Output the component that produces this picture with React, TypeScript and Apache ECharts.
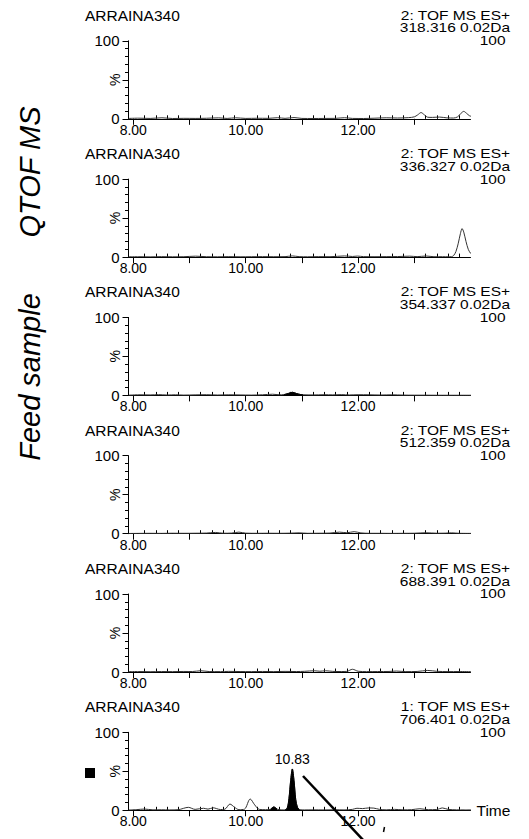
import React, { useEffect, useRef } from "react";
import * as echarts from "echarts";

const FONT = '"Liberation Sans", Arial, Helvetica, sans-serif';

// ---- tick labels / ticks ----
const xLabelValues = [8, 10, 12];
const xMajorTicks = [8, 9, 10, 11, 12, 13];
const xMinorTicks = [8.2, 8.4, 8.6, 8.8, 9.2, 9.4, 9.6, 9.8, 10.2, 10.4, 10.6, 10.8, 11.2, 11.4, 11.6, 11.8, 12.2, 12.4, 12.6, 12.8, 13.2, 13.4, 13.6, 13.8];
const yLabelValues = [0, 100];

// ---- panel headers ----
const sampleNames = ["ARRAINA340", "ARRAINA340", "ARRAINA340", "ARRAINA340", "ARRAINA340", "ARRAINA340"];
const channels = ["2: TOF MS ES+", "2: TOF MS ES+", "2: TOF MS ES+", "2: TOF MS ES+", "2: TOF MS ES+", "1: TOF MS ES+"];
const masses = ["318.316 0.02Da", "336.327 0.02Da", "354.337 0.02Da", "512.359 0.02Da", "688.391 0.02Da", "706.401 0.02Da"];
const scales = ["100", "100", "100", "100", "100", "100"];

// ---- traces: [time (min), intensity (%)] ----
const trace318 = [
  [7.92, 0.5], [8.1, 0.8], [8.3, 0.5], [8.51, 1.3], [8.7, 0.4], [8.9, 0.6], [9.1, 0.5], [9.3, 0.7], [9.52, 1.2], [9.67, 0.5],
  [9.82, 1.3], [10.0, 0.5], [10.2, 0.7], [10.4, 0.6], [10.57, 1.4], [10.7, 0.6], [10.86, 1.6], [11.0, 0.5], [11.2, 0.4], [11.4, 0.5],
  [11.6, 0.6], [11.76, 1.4], [11.9, 0.5], [12.1, 0.4], [12.3, 0.8], [12.5, 1.3], [12.7, 1.0], [12.9, 1.5], [13.0, 2.5], [13.06, 5],
  [13.12, 8], [13.18, 5], [13.24, 2], [13.32, 1.8], [13.45, 2.2], [13.58, 1.2], [13.7, 1.0], [13.77, 2.5], [13.83, 7], [13.88, 9.5],
  [13.93, 7], [13.98, 4], [14.02, 3],
];
const trace336 = [
  [7.92, 0.4], [8.1, 0.5], [8.3, 0.3], [8.5, 0.6], [8.7, 0.4], [8.9, 0.5], [9.11, 1.2], [9.3, 0.5], [9.5, 0.4], [9.7, 0.6],
  [9.9, 0.4], [10.1, 0.5], [10.3, 0.6], [10.5, 0.5], [10.7, 0.6], [10.83, 1.5], [10.95, 0.6], [11.1, 0.4], [11.3, 0.6], [11.5, 0.5],
  [11.76, 1.5], [11.9, 0.8], [11.99, 1.3], [12.1, 0.6], [12.3, 0.5], [12.5, 0.6], [12.7, 0.7], [12.92, 1.2], [13.05, 0.6], [13.21, 1.4],
  [13.35, 0.5], [13.5, 0.5], [13.62, 0.4], [13.66, 0.5], [13.7, 2], [13.74, 7], [13.78, 17], [13.82, 30], [13.85, 36.5], [13.88, 32],
  [13.92, 20], [13.96, 10], [14.0, 5], [14.02, 4],
];
const trace354 = [
  [7.92, 0.3], [8.1, 0.8], [8.3, 0.6], [8.45, 1.0], [8.6, 0.5], [8.75, 0.8], [8.9, 0.4], [9.1, 0.7], [9.3, 0.9], [9.5, 0.5],
  [9.7, 0.8], [9.9, 0.6], [10.1, 0.4], [10.3, 0.8], [10.48, 1.5], [10.6, 0.8], [10.68, 1.0], [10.76, 2.5], [10.83, 4], [10.9, 2.5],
  [10.97, 1.2], [11.02, 0.8], [11.2, 0.6], [11.4, 0.9], [11.55, 0.7], [11.7, 1.0], [11.85, 0.6], [12.0, 0.9], [12.2, 0.8], [12.4, 0.5],
  [12.6, 0.8], [12.8, 0.4], [13.0, 0.3], [13.2, 0.3], [13.4, 0.2], [13.6, 0.2], [13.8, 0.2], [14.02, 0.2],
];
const trace512 = [
  [7.92, 0.3], [8.1, 0.4], [8.3, 0.5], [8.5, 0.4], [8.7, 0.6], [8.9, 0.5], [9.1, 0.6], [9.3, 0.8], [9.46, 1.6], [9.6, 0.6],
  [9.75, 0.8], [9.88, 2], [10.0, 0.7], [10.2, 0.5], [10.4, 0.6], [10.6, 0.5], [10.8, 0.7], [10.95, 1.1], [11.1, 0.5], [11.3, 0.6],
  [11.5, 0.8], [11.67, 2], [11.8, 1.2], [11.93, 2.6], [12.05, 1], [12.2, 0.5], [12.4, 0.5], [12.6, 0.4], [12.8, 0.5], [13.0, 0.6],
  [13.21, 1.2], [13.4, 0.6], [13.55, 0.7], [13.66, 1.1], [13.8, 0.5], [14.02, 0.4],
];
const trace688 = [
  [7.92, 0.5], [8.1, 0.6], [8.3, 0.4], [8.5, 0.6], [8.7, 0.5], [8.9, 0.7], [9.05, 0.6], [9.2, 1.6], [9.35, 0.6], [9.55, 0.5],
  [9.7, 0.8], [9.9, 0.6], [10.1, 0.5], [10.3, 0.7], [10.5, 0.5], [10.7, 0.8], [10.9, 0.6], [11.05, 0.9], [11.22, 1.6], [11.32, 1.0],
  [11.42, 1.6], [11.55, 0.8], [11.7, 0.6], [11.8, 0.8], [11.9, 3.5], [12.0, 1.0], [12.15, 0.5], [12.35, 0.6], [12.55, 0.7], [12.68, 1.2],
  [12.85, 0.5], [13.05, 0.7], [13.24, 2], [13.4, 0.9], [13.6, 0.5], [13.8, 0.6], [14.02, 0.4],
];
const trace706 = [
  [7.92, 0.5], [8.05, 0.8], [8.2, 1.6], [8.35, 0.6], [8.5, 0.7], [8.65, 0.5], [8.8, 0.8], [8.98, 3.8], [9.1, 1.2], [9.25, 2.6],
  [9.33, 1.5], [9.42, 3.2], [9.55, 1.0], [9.63, 1.4], [9.72, 8], [9.8, 4], [9.88, 0.8], [9.98, 1.5], [10.08, 14.5], [10.16, 7],
  [10.24, 1.2], [10.35, 0.8], [10.44, 1.2], [10.5, 4.3], [10.56, 1.5], [10.63, 0.6], [10.7, 0.5], [10.74, 3], [10.77, 15], [10.8, 38],
  [10.83, 53], [10.86, 38], [10.89, 14], [10.92, 4], [10.96, 0.8], [11.05, 0.5], [11.2, 0.6], [11.4, 0.5], [11.6, 0.7], [11.75, 0.5],
  [11.9, 1.2], [11.98, 2.6], [12.08, 2.2], [12.18, 3], [12.28, 2.8], [12.38, 1.2], [12.5, 0.6], [12.65, 1.2], [12.8, 0.6], [12.95, 0.8],
  [13.1, 2], [13.25, 0.8], [13.4, 1.0], [13.5, 3], [13.6, 1.2], [13.75, 0.6], [13.9, 0.5], [14.02, 0.5],
];
const traces = [trace318, trace336, trace354, trace512, trace688, trace706];

// integrated (black filled) peak windows: [panel, start, end, labelled]
const filledPeaks: [number, number, number, boolean][] = [
  [2, 10.68, 11.02, false],
  [5, 10.44, 10.56, false],
  [5, 10.7, 10.96, true],
];

const X_MIN = 7.915;
const X_MAX = 14.0;
const GRID_LEFT = 128.5;
const GRID_WIDTH = 342;
const GRID_TOP0 = 40.8;
const GRID_STEP = 138.3;
const GRID_H = 78;

export default function App() {
  const ref = useRef<HTMLDivElement>(null);

  useEffect(() => {
    if (!ref.current) return;
    const chart = echarts.init(ref.current, null, { renderer: "svg" });

    const grids: any[] = [];
    const xAxes: any[] = [];
    const yAxes: any[] = [];
    const series: any[] = [];
    const graphics: any[] = [];

    const headerText = (text: string, x: number, y: number, align: string) => ({
      type: "text",
      x,
      y,
      scaleY: 0.84,
      style: { text, font: `15.5px ${FONT}`, fill: "#000", textAlign: align, textVerticalAlign: "middle" },
    });

    traces.forEach((tr, i) => {
      const top = GRID_TOP0 + i * GRID_STEP;
      grids.push({ left: GRID_LEFT, top, width: GRID_WIDTH, height: GRID_H });
      const isLast = i === traces.length - 1;
      xAxes.push({
        gridIndex: i,
        type: "value",
        min: X_MIN,
        max: X_MAX,
        name: isLast ? "Time" : "",
        nameLocation: "end",
        nameGap: 6,
        nameMoveOverlap: false,
        nameTextStyle: { color: "#000", fontSize: 15.5, fontFamily: FONT, verticalAlign: "middle" },
        axisLine: { show: true, onZero: false, lineStyle: { color: "#000", width: 1 } },
        axisTick: { show: true, customValues: xMajorTicks, length: 6, lineStyle: { color: "#000", width: 1 } },
        axisLabel: {
          show: true,
          customValues: xLabelValues,
          formatter: (v: number) => v.toFixed(2),
          margin: 4,
          color: "#000",
          fontSize: 14,
          fontFamily: FONT,
        },
        splitLine: { show: false },
      });
      xAxes.push({
        gridIndex: i,
        type: "value",
        min: X_MIN,
        max: X_MAX,
        axisLine: { show: false },
        axisTick: { show: true, customValues: xMinorTicks, length: 3.5, lineStyle: { color: "#000", width: 1 } },
        axisLabel: { show: false },
        splitLine: { show: false },
      });
      yAxes.push({
        gridIndex: i,
        type: "value",
        min: 0,
        max: 100,
        interval: 50,
        name: "%",
        nameLocation: "middle",
        nameRotate: 90,
        nameGap: 7,
        nameMoveOverlap: false,
        nameTextStyle: { color: "#000", fontSize: 14, fontFamily: FONT },
        axisLine: { show: true, lineStyle: { color: "#000", width: 1 } },
        axisTick: { show: true, length: 6, lineStyle: { color: "#000", width: 1 } },
        minorTick: { show: true, splitNumber: 5, length: 3.5, lineStyle: { color: "#000", width: 1 } },
        axisLabel: {
          customValues: yLabelValues,
          margin: 9,
          color: "#000",
          fontSize: 15,
          fontFamily: FONT,
        },
        splitLine: { show: false },
        minorSplitLine: { show: false },
      });
      series.push({
        type: "line",
        xAxisIndex: i * 2,
        yAxisIndex: i,
        data: tr,
        symbol: "none",
        smooth: 0.3,
        lineStyle: { color: "#333", width: 1 },
        z: 3,
      });

      // headers
      graphics.push({
        type: "text",
        x: 85,
        y: 15.3 + i * GRID_STEP,
        style: { text: sampleNames[i], font: `15.5px ${FONT}`, fill: "#000", textAlign: "left", textVerticalAlign: "middle" },
      });
      graphics.push(headerText(channels[i], 510, 15.1 + i * GRID_STEP, "right"));
      graphics.push(headerText(masses[i], 510, 27.9 + i * GRID_STEP, "right"));
      graphics.push(headerText(scales[i], 505.5, 40.7 + i * GRID_STEP, "right"));
    });

    filledPeaks.forEach(([p, t0, t1, labelled]) => {
      const pts = traces[p].filter(([t]) => t >= t0 && t <= t1);
      const peak = pts.reduce((a, b) => (b[1] > a[1] ? b : a), pts[0]);
      series.push({
        type: "line",
        xAxisIndex: p * 2,
        yAxisIndex: p,
        data: pts,
        symbol: "none",
        smooth: 0.3,
        lineStyle: { color: "#000", width: 1 },
        areaStyle: { color: "#000", opacity: 1 },
        z: 4,
        markPoint: labelled
          ? {
              symbol: "rect",
              symbolSize: 1,
              itemStyle: { color: "rgba(0,0,0,0)" },
              label: {
                show: true,
                position: "top",
                distance: 2,
                formatter: (q: any) => Number(q.value).toFixed(2),
                color: "#000",
                fontSize: 14,
                fontFamily: FONT,
              },
              data: [{ coord: [peak[0], peak[1]], value: peak[0] }],
            }
          : undefined,
      });
    });

    graphics.push({
      type: "text",
      x: 30,
      y: 172,
      rotation: Math.PI / 2,
      style: { text: "QTOF MS", font: `italic 29px ${FONT}`, fill: "#000", textAlign: "center", textVerticalAlign: "middle" },
    });
    graphics.push({
      type: "text",
      x: 30,
      y: 377,
      rotation: Math.PI / 2,
      style: { text: "Feed sample", font: `italic 29px ${FONT}`, fill: "#000", textAlign: "center", textVerticalAlign: "middle" },
    });
    graphics.push({ type: "rect", shape: { x: 85, y: 768, width: 10, height: 10 }, style: { fill: "#000" } });
    graphics.push({
      type: "line",
      shape: { x1: 303, y1: 776, x2: 365, y2: 842 },
      style: { stroke: "#000", lineWidth: 2.5 },
      z: 10,
    });
    graphics.push({
      type: "line",
      shape: { x1: 384.5, y1: 827, x2: 383.5, y2: 832 },
      style: { stroke: "#000", lineWidth: 1.5 },
      z: 10,
    });

    chart.setOption({
      animation: false,
      backgroundColor: "#fff",
      grid: grids,
      xAxis: xAxes,
      yAxis: yAxes,
      series,
      graphic: graphics,
    });

    return () => chart.dispose();
  }, []);

  return <div ref={ref} style={{ position: "fixed", left: 0, top: 0, width: 529, height: 839 }} />;
}
